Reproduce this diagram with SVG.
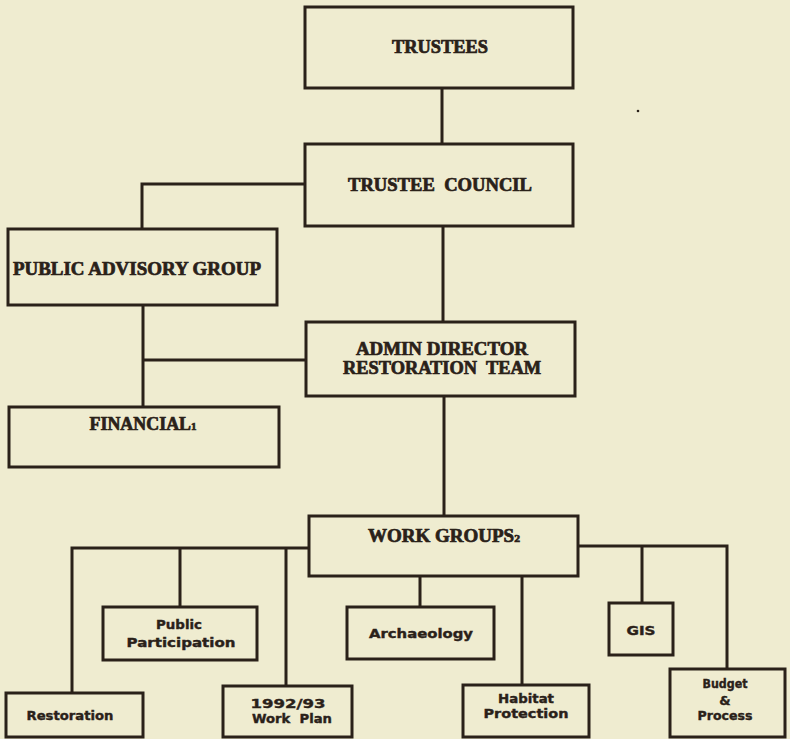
<svg xmlns="http://www.w3.org/2000/svg" width="790" height="739" viewBox="0 0 790 739">
<style>
.bx{fill:none;stroke:#2a2119;stroke-width:3}
.ln{fill:none;stroke:#2a2119;stroke-width:3}
.t1{font-family:"Liberation Serif","DejaVu Serif",serif;font-weight:bold;font-size:18px;fill:#2a2119;stroke:#2a2119;stroke-width:0.7;text-anchor:middle}
.t2{font-family:"DejaVu Sans","Liberation Sans",sans-serif;font-weight:bold;font-size:13px;fill:#2a2119;stroke:#2a2119;stroke-width:0.4;text-anchor:middle}
.sub{font-size:11px}
</style>
<rect width="790" height="739" fill="#efecd0"/>
<circle cx="638" cy="111" r="1.3" fill="#2a2119"/>
<g id="connectors">
<path class="ln" d="M442 88V144"/>
<path class="ln" d="M305 184H142V229"/>
<path class="ln" d="M443 226V322"/>
<path class="ln" d="M143 305V407M143 360H306"/>
<path class="ln" d="M444 396V516"/>
<path class="ln" d="M309 548H72V693M180 548V607M286 548V686"/>
<path class="ln" d="M420 576V607M522 576V685"/>
<path class="ln" d="M578 546H727V669M642 546V603"/>
</g>
<g id="trustees"><rect class="bx" x="305" y="7" width="268" height="81"/><text class="t1" x="440" y="53" textLength="96" lengthAdjust="spacingAndGlyphs">TRUSTEES</text></g>
<g id="trustee-council"><rect class="bx" x="305" y="144" width="268" height="82"/><text class="t1" x="440" y="191" textLength="184" lengthAdjust="spacingAndGlyphs" xml:space="preserve">TRUSTEE  COUNCIL</text></g>
<g id="public-advisory-group"><rect class="bx" x="8" y="229" width="269" height="76"/><text class="t1" x="137" y="275" textLength="248" lengthAdjust="spacingAndGlyphs">PUBLIC ADVISORY GROUP</text></g>
<g id="admin-director"><rect class="bx" x="306" y="322" width="269" height="74"/><text class="t1" x="442" y="355" textLength="172" lengthAdjust="spacingAndGlyphs">ADMIN DIRECTOR</text><text class="t1" x="442" y="374" textLength="198" lengthAdjust="spacingAndGlyphs" xml:space="preserve">RESTORATION  TEAM</text></g>
<g id="financial"><rect class="bx" x="9" y="407" width="270" height="60"/><text class="t1" x="143" y="430" textLength="107" lengthAdjust="spacingAndGlyphs">FINANCIAL<tspan class="sub">1</tspan></text></g>
<g id="work-groups"><rect class="bx" x="309" y="516" width="269" height="60"/><text class="t1" x="444" y="542" textLength="152" lengthAdjust="spacingAndGlyphs">WORK GROUPS<tspan class="sub">2</tspan></text></g>
<g id="restoration"><rect class="bx" x="6" y="693" width="137" height="44"/><text class="t2" x="70" y="720" textLength="87" lengthAdjust="spacingAndGlyphs">Restoration</text></g>
<g id="public-participation"><rect class="bx" x="103" y="607" width="154" height="53"/><text class="t2" x="179" y="629" textLength="46" lengthAdjust="spacingAndGlyphs">Public</text><text class="t2" x="181" y="647" textLength="109" lengthAdjust="spacingAndGlyphs">Participation</text></g>
<g id="work-plan"><rect class="bx" x="223" y="686" width="129" height="51"/><text class="t2" x="288" y="708" textLength="75" lengthAdjust="spacingAndGlyphs">1992/93</text><text class="t2" x="292" y="723" textLength="80" lengthAdjust="spacingAndGlyphs" xml:space="preserve">Work  Plan</text></g>
<g id="archaeology"><rect class="bx" x="347" y="607" width="147" height="52"/><text class="t2" x="421" y="638" textLength="104" lengthAdjust="spacingAndGlyphs">Archaeology</text></g>
<g id="habitat-protection"><rect class="bx" x="463" y="685" width="126" height="52"/><text class="t2" x="526" y="703" textLength="56" lengthAdjust="spacingAndGlyphs">Habitat</text><text class="t2" x="526" y="718" textLength="85" lengthAdjust="spacingAndGlyphs">Protection</text></g>
<g id="gis"><rect class="bx" x="609" y="603" width="64" height="52"/><text class="t2" x="641" y="635" textLength="29" lengthAdjust="spacingAndGlyphs">GIS</text></g>
<g id="budget-process"><rect class="bx" x="670" y="669" width="115" height="68"/><text class="t2" x="725" y="688" textLength="45" lengthAdjust="spacingAndGlyphs">Budget</text><text class="t2" x="725" y="705">&amp;</text><text class="t2" x="725" y="720" textLength="55" lengthAdjust="spacingAndGlyphs">Process</text></g>
</svg>
